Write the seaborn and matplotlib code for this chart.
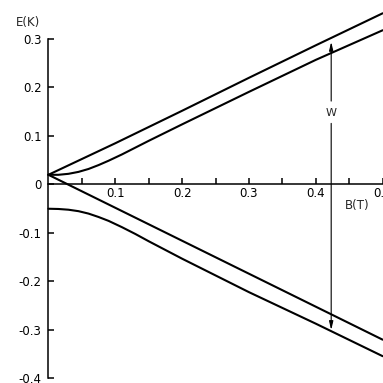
import numpy as np
import pandas as pd
import matplotlib
matplotlib.use("Agg")
import matplotlib.pyplot as plt
import seaborn as sns

# field values B (T) and energy levels E (K)
b_upper_a = [0.0, 0.1, 0.2, 0.3, 0.4, 0.5]
e_upper_a = [0.02, 0.085, 0.152, 0.22, 0.287, 0.353]

b_upper_b = [0.0, 0.015, 0.03, 0.045, 0.06, 0.075, 0.09, 0.11, 0.13, 0.15, 0.2, 0.3, 0.4, 0.5]
e_upper_b = [0.02, 0.02, 0.022, 0.026, 0.032, 0.04, 0.049, 0.062, 0.076, 0.09, 0.124, 0.191, 0.257, 0.318]

b_lower_c = [0.0, 0.1, 0.2, 0.3, 0.4, 0.5]
e_lower_c = [0.02, -0.048, -0.116, -0.184, -0.252, -0.32]

b_lower_d = [0.0, 0.015, 0.03, 0.045, 0.06, 0.075, 0.09, 0.11, 0.13, 0.15, 0.2, 0.3, 0.4, 0.5]
e_lower_d = [-0.05, -0.0505, -0.052, -0.055, -0.06, -0.067, -0.075, -0.088, -0.102, -0.117, -0.153, -0.222, -0.287, -0.354]

y_ticks = [0.3, 0.2, 0.1, 0.0, -0.1, -0.2, -0.3, -0.4]
y_labels = ["0.3", "0.2", "0.1", "0", "-0.1", "-0.2", "-0.3", "-0.4"]
x_ticks = [0.1, 0.2, 0.3, 0.4, 0.5]
x_labels = ["0.1", "0.2", "0.3", "0.4", "0.5"]

# width arrow
w_b = 0.423
w_top = 0.294
w_bottom = -0.3

sns.set_theme(style="white")
plt.rcParams["font.family"] = ["DejaVu Sans"]

fig = plt.figure(figsize=(3.83, 3.83), dpi=100)
ax = fig.add_axes([0, 0, 1, 1])

curves = [(b_upper_a, e_upper_a), (b_upper_b, e_upper_b),
          (b_lower_c, e_lower_c), (b_lower_d, e_lower_d)]
for bx, ey in curves:
    sns.lineplot(x=bx, y=ey, color="black", linewidth=1.5, ax=ax)

ax.set_xlim(-0.0724, 0.5005)
ax.set_ylim(-0.4093, 0.3804)

# axes crossing at the origin
ax.spines["left"].set_position(("data", 0))
ax.spines["bottom"].set_position(("data", 0))
ax.spines["left"].set_bounds(-0.4, 0.3)
ax.spines["bottom"].set_bounds(0, 0.5005)
ax.spines["right"].set_visible(False)
ax.spines["top"].set_visible(False)
for s in ["left", "bottom"]:
    ax.spines[s].set_color("black")
    ax.spines[s].set_linewidth(1.1)

ax.set_yticks(y_ticks)
ax.set_yticklabels(y_labels)
ax.set_xticks(x_ticks)
ax.set_xticklabels(x_labels)
ax.set_xticks([0.05, 0.15, 0.25, 0.35, 0.45], minor=True)
ax.tick_params(axis="y", direction="in", length=4, width=1.1, color="black",
               labelsize=8.5, pad=5, left=True)
ax.tick_params(axis="x", which="both", direction="in", length=4, width=1.1,
               color="black", labelsize=8.5, pad=2, bottom=True)
for lab in ax.get_xticklabels() + ax.get_yticklabels():
    lab.set_color("black")

ax.text(-0.03, 0.335, "E(K)", fontsize=8.5, ha="center", va="center")
ax.text(0.462, -0.043, "B(T)", fontsize=8.5, ha="center", va="center")
ax.text(w_b, 0.148, "W", fontsize=8, ha="center", va="center")

arrow = dict(arrowstyle="-|>,head_width=0.12,head_length=0.5", color="black",
             lw=0.8, shrinkA=0, shrinkB=0, mutation_scale=10)
ax.annotate("", xy=(w_b, w_top), xytext=(w_b, 0.172), arrowprops=arrow)
ax.annotate("", xy=(w_b, w_bottom), xytext=(w_b, 0.126), arrowprops=arrow)

fig.savefig("out.png", dpi=100, facecolor="white")
